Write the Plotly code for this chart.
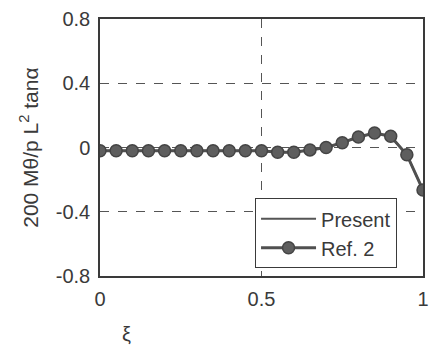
import plotly.graph_objects as go

xi = [0.0, 0.05, 0.10, 0.15, 0.20, 0.25, 0.30, 0.35, 0.40, 0.45, 0.50,
      0.55, 0.60, 0.65, 0.70, 0.75, 0.80, 0.85, 0.90, 0.95, 1.0]
present = [-0.02, -0.02, -0.02, -0.02, -0.02, -0.02, -0.02, -0.02, -0.02, -0.02, -0.02,
           -0.03, -0.03, -0.015, 0.0, 0.03, 0.065, 0.09, 0.07, -0.045, -0.265]
ref2 = [-0.02, -0.02, -0.02, -0.02, -0.02, -0.02, -0.02, -0.02, -0.02, -0.02, -0.02,
        -0.03, -0.03, -0.015, 0.0, 0.03, 0.065, 0.09, 0.07, -0.045, -0.265]
x_ticks = [0, 0.5, 1]
x_tick_labels = ["0", "0.5", "1"]
y_ticks = [-0.8, -0.4, 0, 0.4, 0.8]
y_tick_labels = ["-0.8", "-0.4", "0", "0.4", "0.8"]

FONT = "Liberation Sans, Arial, sans-serif"
INK = "#3a3a3a"

fig = go.Figure()
fig.add_trace(go.Scatter(x=xi, y=present, mode="lines", name="Present",
                         line=dict(color="#555555", width=2)))
fig.add_trace(go.Scatter(x=xi, y=ref2, mode="lines+markers", name="Ref. 2",
                         line=dict(color="#505050", width=3),
                         marker=dict(size=12, color="#5e5e5e",
                                     line=dict(color="#444444", width=1.5))))

axis_common = dict(showline=True, linecolor=INK, linewidth=1.5, mirror=True,
                   showgrid=True, gridcolor="#555555", griddash="dash", gridwidth=1,
                   zeroline=False, ticks="", ticklabelstandoff=4,
                   tickfont=dict(family=FONT, size=20, color=INK))

fig.update_xaxes(range=[0, 1], tickvals=x_ticks, ticktext=x_tick_labels, **axis_common)
fig.update_yaxes(range=[-0.8, 0.8], tickvals=y_ticks, ticktext=y_tick_labels, **axis_common)

fig.add_annotation(text="200 M\u03b8/p L<sup>2</sup> tan\u03b1", xref="paper", yref="paper",
                   x=-0.222, y=0.5, xanchor="center", yanchor="middle", textangle=-90,
                   showarrow=False, font=dict(family=FONT, size=21, color=INK))
fig.add_annotation(text="\u03be", xref="paper", yref="paper",
                   x=0.082, y=-0.225, xanchor="center", yanchor="middle",
                   showarrow=False, font=dict(family=FONT, size=20, color=INK))

fig.update_layout(
    width=437, height=349,
    margin=dict(l=100, r=8, t=14, b=73),
    paper_bgcolor="white", plot_bgcolor="white",
    showlegend=True,
    legend=dict(x=0.48, y=0.03, xanchor="left", yanchor="bottom",
                bgcolor="white", bordercolor=INK, borderwidth=1,
                font=dict(family=FONT, size=20, color=INK),
                tracegroupgap=0, itemwidth=55),
    font=dict(family=FONT, color=INK),
)

fig.write_html("out.html")
